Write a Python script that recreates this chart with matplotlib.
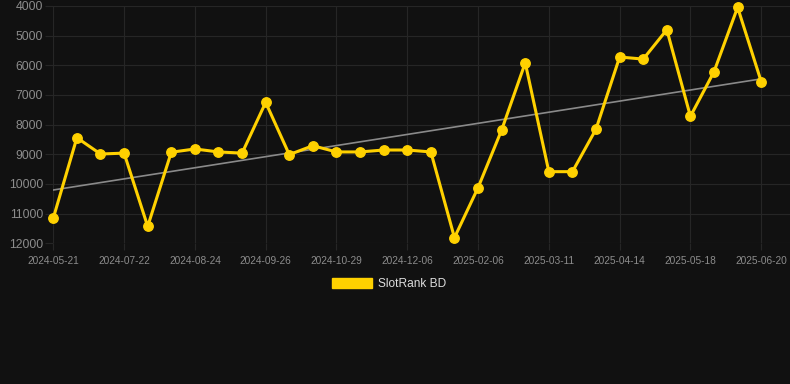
import numpy as np
import matplotlib
matplotlib.use("Agg")
import matplotlib.pyplot as plt
from matplotlib.patches import Patch

# ---- data ----
tick_labels = ["2024-05-21", "2024-07-22", "2024-08-24", "2024-09-26", "2024-10-29",
               "2024-12-06", "2025-02-06", "2025-03-11", "2025-04-14", "2025-05-18",
               "2025-06-20"]
values = [11150, 8440, 8990, 8960, 11430, 8930, 8820, 8920, 8960, 7250,
          9010, 8710, 8920, 8920, 8855, 8855, 8920, 11810, 10125, 8180,
          5915, 9585, 9585, 8150, 5720, 5790, 4800, 7720, 6215, 4045,
          6550]
series_name = "SlotRank BD"
y_ticks = [4000, 5000, 6000, 7000, 8000, 9000, 10000, 11000, 12000]

# ---- style ----
BG = "#111111"
GRID = "#262626"
YELLOW = "#FFD100"
TREND = "#8a8a8a"
TICK_COL = "#8c8c8c"

plt.rcParams['font.family'] = ['Liberation Sans', 'DejaVu Sans']

fig = plt.figure(figsize=(7.9, 3.84), dpi=100, facecolor=BG)
ax = fig.add_axes([53.3 / 790, (384 - 243.3) / 384, (790 - 53.3) / 790, (243.3 - 6) / 384])
ax.set_facecolor(BG)

x = np.arange(len(values))
y = np.array(values, dtype=float)

# trend line (linear regression)
coef = np.polyfit(x, y, 1)
ax.plot(x, np.polyval(coef, x), color=TREND, lw=1.2, zorder=2)

ax.plot(x, y, color=YELLOW, lw=2.2, marker='o', markersize=6.8,
        markerfacecolor=YELLOW, markeredgecolor=YELLOW, zorder=3, clip_on=False)

ax.set_ylim(12000, 4000)
ax.set_xlim(0, 31.22)
ax.set_yticks(y_ticks)
ax.set_yticklabels([str(v) for v in y_ticks])
ax.set_xticks(x[::3])
ax.set_xticklabels(tick_labels)

for s in ax.spines.values():
    s.set_visible(False)

ax.grid(True, color=GRID, lw=0.8, zorder=0)
ax.set_axisbelow(True)
ax.tick_params(axis='y', length=6, width=0.8, color=GRID, pad=1.5,
               labelsize=8.8, labelcolor=TICK_COL)
ax.tick_params(axis='x', length=5, width=0.8, color=GRID, pad=4,
               labelsize=7.3, labelcolor=TICK_COL)

handle = Patch(facecolor=YELLOW, edgecolor=YELLOW)
fig.legend(handles=[handle], labels=[series_name], loc='center',
           bbox_to_anchor=(389 / 790, (384 - 284) / 384), frameon=False,
           fontsize=8.6, labelcolor="#dddddd", handlelength=3.4,
           handleheight=0.95, handletextpad=0.5, borderpad=0)

fig.savefig("out.png", dpi=100, facecolor=BG)
